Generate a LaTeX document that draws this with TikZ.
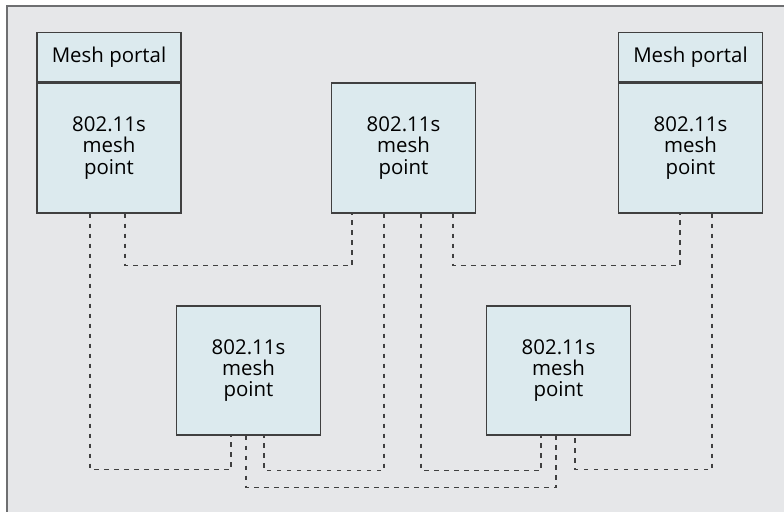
\documentclass[tikz,border=0pt]{standalone}
\usepackage{fontspec}
\setmainfont{Open Sans}
\usepackage{tikz}
\usetikzlibrary{positioning}
\definecolor{colorbg}   {RGB}{230,231,233}
\definecolor{colorbox}  {RGB}{220,234,238}
\definecolor{colorframe}{RGB}{110,111,113}
\definecolor{colorline} {RGB}{64,64,64}

\begin{document}
\begin{tikzpicture}[
    x=1bp, y=-1bp,
    font={\fontsize{20.5}{21.5}\selectfont},
    mesh/.style={draw=colorline,line width=1.2bp,fill=colorbox,align=center,rectangle,minimum width=144bp,minimum height=130bp,inner sep=0pt},
    portal/.style={draw=colorline,line width=1.2bp,fill=colorbox,rectangle,minimum width=144bp,minimum height=49bp,inner sep=0pt},
    link/.style={draw=colorline,line width=1.2bp,dash pattern=on 4.5bp off 5.5bp},
]
    \useasboundingbox (0,0) rectangle (784,512);

    % Frame
    \fill[colorbg] (7,6) rectangle (784,512);
    \draw[colorframe,line width=2bp] (7,512) -- (7,6) -- (784,6);

    % Mesh points
    \node[mesh] (lp) at (109,148)   {802.11s\\mesh\\point};
    \node[mesh] (c)  at (403.5,148) {802.11s\\mesh\\point};
    \node[mesh] (rp) at (690.5,148) {802.11s\\mesh\\point};
    \node[mesh, minimum height=129bp] (bl) at (248.5,370.5) {802.11s\\mesh\\point};
    \node[mesh, minimum height=129bp] (br) at (558.5,370.5) {802.11s\\mesh\\point};

    % Portals
    \node[portal, above=0pt of lp] (lphead) {Mesh portal};
    \node[portal, above=0pt of rp] (rphead) {Mesh portal};

    % Links
    \draw[link] ([xshift=16bp]lp.south) -- ++(0,52) -| ([xshift=-51.5bp]c.south);
    \draw[link] ([xshift=-19bp]lp.south) -- ++(0,256) -| ([xshift=-17.5bp]bl.south);
    \draw[link] ([xshift=-19.5bp]c.south) -- ++(0,257) -| ([xshift=15.5bp]bl.south);
    \draw[link] ([xshift=17.5bp]c.south) -- ++(0,257) -| ([xshift=-17.5bp]br.south);
    \draw[link] ([xshift=49.5bp]c.south) -- ++(0,52) -| ([xshift=-10.5bp]rp.south);
    \draw[link] ([xshift=21.5bp]rp.south) -- ++(0,256) -| ([xshift=16.5bp]br.south);
    \draw[link] ([xshift=-2.5bp]bl.south) -- ++(0,52) -| ([xshift=-2.5bp]br.south);

\end{tikzpicture}
\end{document}
